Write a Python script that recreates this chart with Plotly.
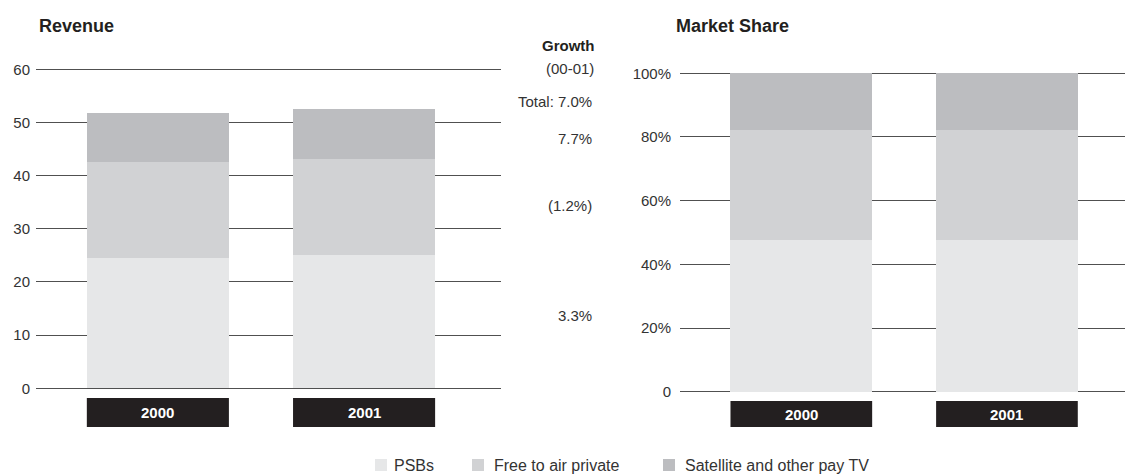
import plotly.graph_objects as go

# data
years = ["2000", "2001"]
segments = ["PSBs", "Free to air private", "Satellite and other pay TV"]
revenue = {
    "PSBs": [24.6, 25.0],
    "Free to air private": [17.9, 18.1],
    "Satellite and other pay TV": [9.2, 9.4],
}
share = {
    "PSBs": [47.6, 47.8],
    "Free to air private": [34.7, 34.5],
    "Satellite and other pay TV": [17.7, 17.7],
}
rev_ticks = [0, 10, 20, 30, 40, 50, 60]
share_ticks = [0, 20, 40, 60, 80, 100]
share_ticktext = ["0", "20%", "40%", "60%", "80%", "100%"]
growth_labels = ["Total: 7.0%", "7.7%", "(1.2%)", "3.3%"]

colors = {
    "PSBs": "#e6e7e8",
    "Free to air private": "#d1d2d4",
    "Satellite and other pay TV": "#bcbdc0",
}

FONT = "Liberation Sans, Arial, sans-serif"
# page has an 8px body margin: the figure starts at (8, 8) and runs to the window edge
OFF = 8
W, H = 1133 - OFF, 475 - OFF
BAR_W = 0.689


def px(x):
    return (x - OFF) / W


def py(y):
    return 1 - (y - OFF) / H


def y_axis(y0px, ytop_px, vmax, pad):
    # domain and range so that 0 -> y0px and vmax -> ytop_px, padded so end gridlines show
    per = (y0px - ytop_px) / vmax
    lo, hi = -pad, vmax + pad
    return [py(y0px + pad * per), py(ytop_px - pad * per)], [lo, hi]


fig = go.Figure()

for seg in segments:
    fig.add_trace(go.Bar(x=[0, 1], y=revenue[seg], name=seg, width=BAR_W,
                         marker=dict(color=colors[seg], line=dict(width=0)),
                         xaxis="x", yaxis="y", showlegend=False))
    fig.add_trace(go.Bar(x=[0, 1], y=share[seg], name=seg, width=BAR_W,
                         marker=dict(color=colors[seg], line=dict(width=0)),
                         xaxis="x2", yaxis="y2", showlegend=False))

grid = dict(showgrid=True, gridcolor="#505050", gridwidth=1.2, zeroline=False,
            showline=False, ticks="", automargin=False,
            tickfont=dict(family=FONT, size=15, color="#333333"))

dom1, rng1 = y_axis(388.3, 69.3, 60, 0.3)
dom2, rng2 = y_axis(391.7, 73.3, 100, 0.5)

fig.update_layout(
    width=W, height=H, autosize=False,
    margin=dict(l=0, r=0, t=0, b=0, pad=0, autoexpand=False),
    paper_bgcolor="white", plot_bgcolor="white",
    barmode="stack",
    font=dict(family=FONT, color="#333333"),
    xaxis=dict(domain=[px(36), px(501)], range=[-0.591, 1.664], automargin=False,
               showticklabels=False, showgrid=False, zeroline=False, ticks=""),
    yaxis=dict(domain=dom1, range=rng1, tickvals=rev_ticks,
               ticklabelstandoff=5, **grid),
    xaxis2=dict(domain=[px(680), 1.0], range=[-0.590, 1.613], automargin=False,
                showticklabels=False, showgrid=False, zeroline=False, ticks=""),
    yaxis2=dict(domain=dom2, range=rng2, tickvals=share_ticks,
                ticktext=share_ticktext, anchor="x2", ticklabelstandoff=8, **grid),
)

# black year boxes under the bars
for xa, top, bottom in [("x", 398, 427), ("x2", 401, 427)]:
    for i, yr in enumerate(years):
        fig.add_shape(type="rect", xref=xa, yref="paper",
                      x0=i - BAR_W / 2, x1=i + BAR_W / 2,
                      y0=py(bottom), y1=py(top),
                      fillcolor="#231f20", line=dict(width=0), layer="above")
        fig.add_annotation(x=i, y=py((top + bottom) / 2), xref=xa, yref="paper",
                           yanchor="middle", text=f"<b>{yr}</b>", showarrow=False,
                           font=dict(family=FONT, size=15, color="white"))

# titles
fig.add_annotation(x=px(37), y=py(26), xref="paper", yref="paper",
                   xanchor="left", yanchor="middle",
                   text="<b>Revenue</b>", showarrow=False,
                   font=dict(family=FONT, size=18, color="#231f20"))
fig.add_annotation(x=px(674), y=py(26), xref="paper", yref="paper",
                   xanchor="left", yanchor="middle",
                   text="<b>Market Share</b>", showarrow=False,
                   font=dict(family=FONT, size=18, color="#231f20"))

# growth column
fig.add_annotation(x=px(597), y=py(45), xref="paper", yref="paper",
                   xanchor="right", yanchor="middle",
                   text="<b>Growth</b>", showarrow=False,
                   font=dict(family=FONT, size=15, color="#231f20"))
fig.add_annotation(x=px(596), y=py(69), xref="paper", yref="paper",
                   xanchor="right", yanchor="middle",
                   text="(00-01)", showarrow=False,
                   font=dict(family=FONT, size=15, color="#333333"))
for txt, ypx in zip(growth_labels, [102, 138, 205, 315]):
    fig.add_annotation(x=px(594), y=py(ypx), xref="paper", yref="paper",
                       xanchor="right", yanchor="middle", text=txt, showarrow=False,
                       font=dict(family=FONT, size=15, color="#333333"))

# legend drawn by hand to match spacing
for seg, sq_x, tx in zip(segments, [375, 472, 663], [392, 492, 683]):
    fig.add_shape(type="rect", xref="paper", yref="paper",
                  x0=px(sq_x), x1=px(sq_x + 12),
                  y0=py(471), y1=py(459),
                  fillcolor=colors[seg], line=dict(width=0))
    fig.add_annotation(x=px(tx), y=py(465), xref="paper", yref="paper",
                       xanchor="left", yanchor="middle", text=seg, showarrow=False,
                       font=dict(family=FONT, size=16, color="#333333"))

fig.write_html("out.html")
